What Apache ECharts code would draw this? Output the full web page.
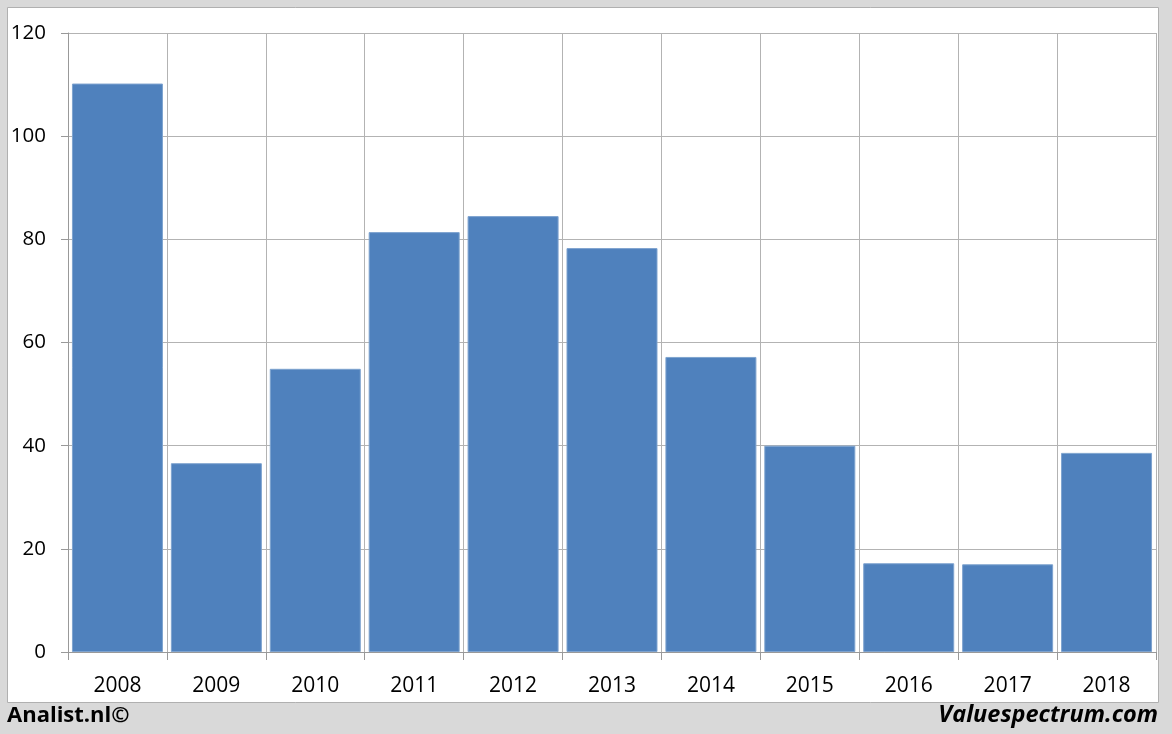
<!DOCTYPE html>
<html><head><meta charset="utf-8">
<script src="https://cdn.jsdelivr.net/npm/echarts@6/dist/echarts.min.js"></script>
<style>html,body{margin:0;padding:0;background:#d9d9d9}#c{width:1172px;height:734px}</style>
</head><body><div id="c"></div>
<script>
const categories = ['2008','2009','2010','2011','2012','2013','2014','2015','2016','2017','2018'];
const values = [110.2, 36.6, 54.9, 81.4, 84.5, 78.3, 57.2, 40.0, 17.2, 17.0, 38.6];
const yTicks = [0, 20, 40, 60, 80, 100, 120];

const chart = echarts.init(document.getElementById('c'));
const font = '"Open Sans", "Liberation Sans", sans-serif';
chart.setOption({
  backgroundColor: '#d9d9d9',
  animation: false,
  graphic: [
    {type:'rect', shape:{x:7.5,y:7.5,width:1151,height:695}, style:{fill:'#ffffff', stroke:'#b0b0b0', lineWidth:1}, z:-10},
    {type:'text', left:7, top:705, style:{text:'Analist.nl©', font:'bold 22px ' + font, fill:'#000'}},
    {type:'text', right:14, top:704, style:{text:'Valuespectrum.com', font:'italic bold 23.5px ' + font, fill:'#000'}}
  ],
  grid: {left:68, right:16, top:33, bottom:82, containLabel:false},
  xAxis: {
    type:'category', data: categories,
    axisLine:{lineStyle:{color:'#999999'}},
    axisTick:{show:true, length:8, lineStyle:{color:'#999999'}},
    axisLabel:{color:'#000', fontSize:21, fontFamily:font, margin:24},
    splitLine:{show:true, lineStyle:{color:'#b3b3b3'}}
  },
  yAxis: {
    type:'value', min: yTicks[0], max: yTicks[yTicks.length-1], interval:20,
    axisLine:{show:true, lineStyle:{color:'#999999'}},
    axisTick:{show:true, length:7, lineStyle:{color:'#999999'}},
    axisLabel:{color:'#000', fontSize:20.5, fontFamily:font, margin:22},
    splitLine:{show:true, lineStyle:{color:'#b3b3b3'}}
  },
  series: [{
    type:'bar', data: values, barCategoryGap:'8%',
    itemStyle:{color:'#4f81bd', borderColor:'#7ea3cf', borderWidth:1}
  }]
});
</script></body></html>
